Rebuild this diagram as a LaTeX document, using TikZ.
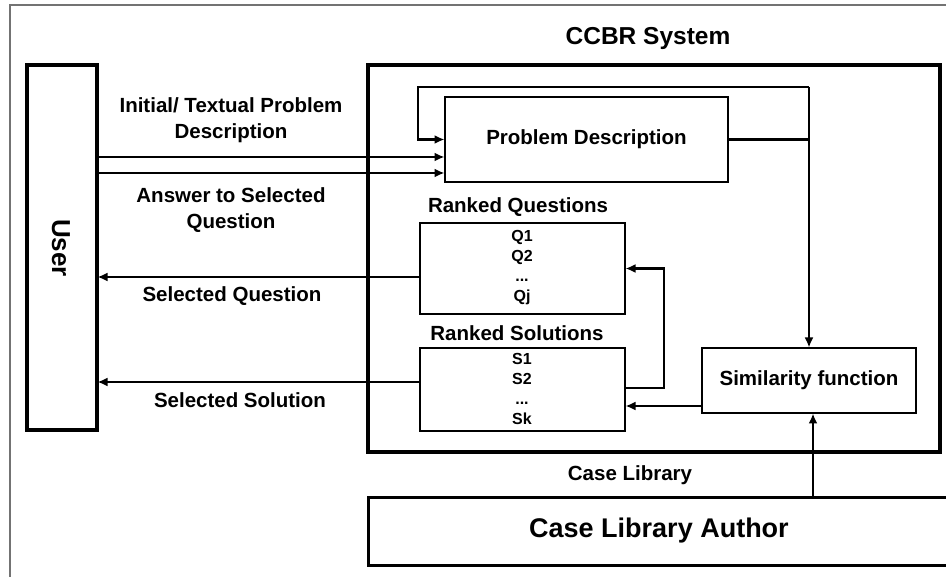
\documentclass[tikz,border=0pt]{standalone}
\usepackage{fontspec}
\setmainfont{Liberation Sans}
\usepackage{tikz}
\usepackage{xcolor}
\usetikzlibrary{arrows.meta}
\colorlet{myframe}{black!55}
\colorlet{myline}{black}
\tikzset{
	>=latex, % default arrow head
	box/.style={draw=myline,line width=1.8,rectangle,inner sep=0,outer sep=0},
	box user/.style={box,line width=3.2},
	box system/.style={box,line width=4.8},
	box author/.style={box,line width=3},
	label/.style={font=\bfseries\fontsize{20.5}{26}\selectfont,align=center,inner sep=0},
	list/.style={font=\bfseries\fontsize{16}{20}\selectfont,align=center,inner sep=0},
	connect/.style={line width=2.2,myline},
	connect arrow/.style={-{Latex[length=10,width=9]},line width=2.2,myline,shorten >=0.5}
}

\begin{document}
\begin{tikzpicture}[x=1pt,y=-1pt]
  \clip (0,0) rectangle (946,577);
  \draw[myframe,line width=1.5] (10,5) rectangle (990,640); % outer frame
  
  % BOXES
  \node[box user,minimum width=70,minimum height=365] (User) at (62,247.5) {};
  \node[font=\bfseries\fontsize{26}{30}\selectfont,rotate=-90] (UserText) at (61,248) {User};
  \node[box system,minimum width=572,minimum height=387] (CCBR) at (654,258.5) {};
  \node[font=\bfseries\fontsize{24.5}{28}\selectfont] (CCBRText) at (648,38) {CCBR System};
  \node[box,minimum width=283,minimum height=85,label] (PD) at (586.5,139.5) {Problem Description};
  \node[box,minimum width=205,minimum height=91] (RQ) at (522.5,268.5) {};
  \node[box,minimum width=205,minimum height=83] (RS) at (522.5,389.5) {};
  \node[box,minimum width=214,minimum height=65,label] (Sim) at (809,380.5) {Similarity function};
  \node[box author,minimum width=582,minimum height=68,font=\bfseries\fontsize{27}{30}\selectfont] (CLA) at (659,531) {Case Library Author};
  
  % LISTS
  \node[list] (QList) at (522,268) {Q1\\Q2\\...\\Qj};
  \node[list] (SList) at (522,389) {S1\\S2\\...\\Sk};
  
  % LABELS
  \node[label] (LInit) at (231,120) {Initial/ Textual Problem\\Description};
  \node[label] (LAnswer) at (231,210) {Answer to Selected\\Question};
  \node[label] (LSelQ) at (232,296) {Selected Question};
  \node[label] (LSelS) at (240,400) {Selected Solution};
  \node[label] (LRankQ) at (518,207) {Ranked Questions};
  \node[label] (LRankS) at (517,333) {Ranked Solutions};
  \node[label] (LCase) at (630,475) {Case Library};
  
  % CONNECTORS
  \coordinate (loop) at (418,87);
  \coordinate (in1) at (0,157);
  \coordinate (in2) at (0,173);
  \coordinate (outQ) at (0,277);
  \coordinate (outS) at (0,382);
  \draw[connect] (PD.east) -- (PD.east -| Sim.north);
  \draw[connect arrow] (Sim.north |- loop) -- (Sim.north);
  \draw[connect arrow] (Sim.north |- loop) -- (loop) |- (PD.west);
  \foreach \c in {in1,in2}{ % user input arrows
    \draw[connect arrow] (User.east |- \c) -- (PD.west |- \c);
  }
  \foreach \b/\c in {RQ/outQ,RS/outS}{ % answers back to the user
    \draw[connect arrow] (\b.west |- \c) -- (User.east |- \c);
  }
  \draw[connect arrow] ([yshift=1.5]RS.east) -- ++(39,0) |- (RQ.east);
  \draw[connect arrow] ([yshift=-25.5]Sim.west) -- ([yshift=-25.5]Sim.west -| RS.east);
  \draw[connect arrow] ([xshift=4]CLA.north -| Sim.south) -- ([xshift=4]Sim.south);
  
\end{tikzpicture}
\end{document}
